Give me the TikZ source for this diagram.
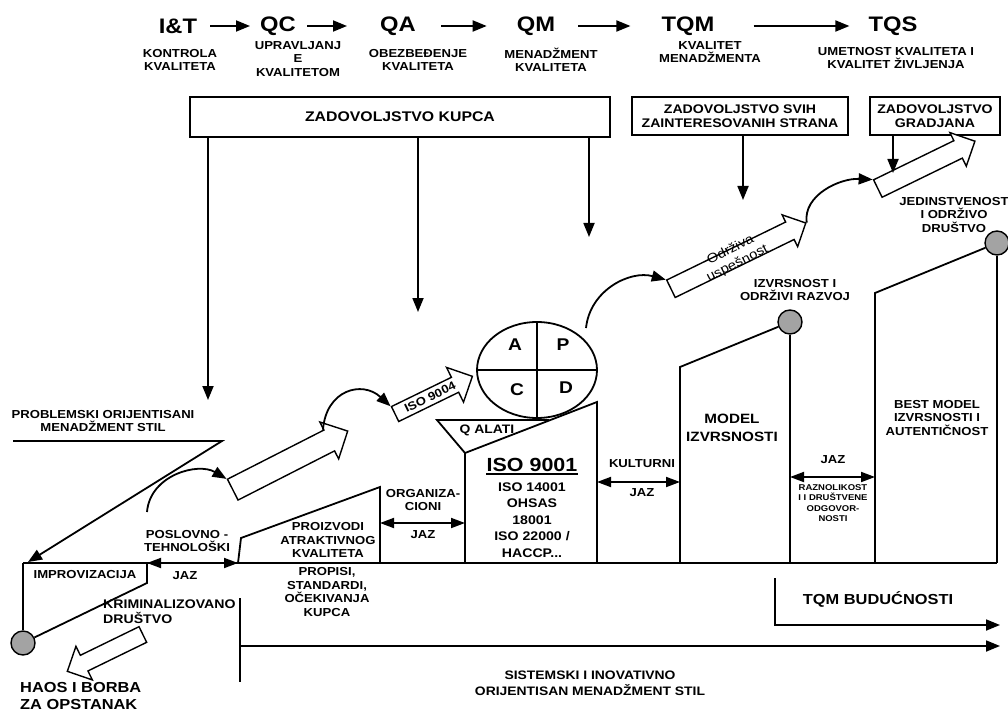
\documentclass[tikz,border=0pt]{standalone}
\usepackage{fontspec}
\setmainfont{Liberation Sans}[FakeStretch=1.13]
\usetikzlibrary{arrows.meta,positioning,shapes.arrows,shapes.geometric,calc}
\definecolor{discgray}{HTML}{A3A3A3}
\tikzset{
  lbl/.style={font=\fontsize{11.6}{13.5}\selectfont\bfseries,align=center,inner sep=0pt},
  sm/.style={lbl,font=\fontsize{8.4}{10.5}\selectfont\bfseries},
  mid/.style={lbl,font=\fontsize{13.5}{18}\selectfont\bfseries},
  big/.style={lbl,font=\fontsize{14.5}{16.5}\selectfont\bfseries},
  hd/.style={font=\fontsize{21}{24}\selectfont\bfseries,inner sep=0pt},
  box/.style={draw,line width=1.8pt,align=center,inner sep=0pt,font=\fontsize{12.5}{14}\selectfont\bfseries},
  ln/.style={line width=1.8pt},
  ar/.style={ln,-{Triangle[length=14pt,width=11pt]}},
  gap/.style={ln,{Triangle[length=14pt,width=10pt]}-{Triangle[length=14pt,width=10pt]}},
  blk/.style={single arrow,draw,line width=1.4pt,fill=white,inner xsep=0pt,single arrow head indent=0pt},
  gdisc/.style={circle,draw,line width=1.4pt,fill=discgray,minimum size=24pt,inner sep=0pt},
}
\begin{document}
\begin{tikzpicture}[x=1pt,y=-1pt]
\useasboundingbox (0,0) rectangle (1008,711);
% stages of quality
\node[hd] (hIT) at (178,26) {I\&T};
\node[hd] (hQC) at (278,26) {QC};
\node[hd] (hQA) at (398,26) {QA};
\node[hd] (hQM) at (536,26) {QM};
\node[hd] (hTQM) at (688,26) {TQM};
\node[hd] (hTQS) at (893,26) {TQS};
\draw[ar,shorten <=13pt,shorten >=10pt] (hIT) -- (hQC);
\draw[ar,shorten <=11pt,shorten >=33pt] (hQC) -- (hQA);
\draw[ar,shorten <=25pt,shorten >=30pt] (hQA) -- (hQM);
\draw[ar,shorten <=23pt,shorten >=31pt] (hQM) -- (hTQM);
\draw[ar,shorten <=39pt,shorten >=19pt] (hTQM) -- (hTQS);
\node[lbl] (sIT) at (180,60) {KONTROLA\\KVALITETA};
\node[lbl] (sQC) at (298,59) {UPRAVLJANJ\\E\\KVALITETOM};
\node[lbl] (sQA) at (418,60) {OBEZBEĐENJE\\KVALITETA};
\node[lbl] (sQM) at (551,60) {MENADŽMENT\\KVALITETA};
\node[lbl] (sTQM) at (710,52) {KVALITET\\MENADŽMENTA};
\node[lbl] (sTQS) at (896,58) {UMETNOST KVALITETA I\\KVALITET ŽIVLJENJA};

% satisfaction boxes
\node[box,minimum width=420pt,minimum height=40pt,font=\fontsize{14}{16}\selectfont\bfseries] (kupca) at (400,117) {ZADOVOLJSTVO KUPCA};
\node[box,minimum width=216pt,minimum height=38pt] (svih) at (740,116) {ZADOVOLJSTVO SVIH\\ZAINTERESOVANIH STRANA};
\node[box,minimum width=130pt,minimum height=38pt] (gradj) at (935,116) {ZADOVOLJSTVO\\GRADJANA};
\coordinate (kA) at (208,400);
\coordinate (kB) at (418,312);
\coordinate (kC) at (589,237);
\coordinate (sA) at (743,200);
\coordinate (gA) at (893,173);
\draw[ar] (kupca.south -| kA) -- (kA);
\draw[ar] (kupca.south -| kB) -- (kB);
\draw[ar] (kupca.south -| kC) -- (kC);
\draw[ar] (svih.south -| sA) -- (sA);

% block arrows
\node[blk,rotate=27,minimum height=129pt,minimum width=40pt,inner ysep=11pt,single arrow head extend=9pt] (b1) at (285,463) {};
\node[blk,rotate=26,minimum height=86pt,minimum width=38pt,inner ysep=3.5pt,single arrow head extend=11pt,font=\fontsize{11.6}{13}\selectfont\bfseries] (b2) at (430,397) {ISO 9004};
\node[blk,rotate=26,minimum height=150pt,minimum width=34pt,inner ysep=9pt,single arrow head extend=8pt] (b3) at (734,258) {};
\node[rotate=27,align=center,inner sep=0pt,font=\fontsize{13}{15}\selectfont] (odr) at (734,257) {Održiva\\uspešnost};
\node[blk,rotate=26,minimum height=108pt,minimum width=36pt,inner ysep=9pt,single arrow head extend=9pt] (b4) at (922,167) {};
\node[blk,rotate=206,minimum height=84pt,minimum width=36pt,inner ysep=8pt,single arrow head extend=10pt] (b5) at (109,651) {};
\draw[ar] (gradj.south -| gA) -- (gA);

% curved arrows
\coordinate (ca) at (147,512);
\coordinate (cc) at (586,328);
\draw[ar] (ca) .. controls (150,475) and (198,462) .. (b1.after tail);
\draw[ar] (b1.before head) .. controls (326,390) and (362,380) .. (b2.after tail);
\draw[ar] (cc) .. controls (590,290) and (630,270) .. (b3.after tail);
\draw[ar] (b3.tip) .. controls (803,195) and (840,178) .. (b4.after tail);

% PDCA
\node[draw,ellipse,ln,minimum width=120pt,minimum height=96pt,inner sep=0pt] (pdca) at (537,370) {};
\draw[ln] (pdca.north) -- (pdca.south);
\draw[ln] (pdca.west) -- (pdca.east);
\node[hd,font=\fontsize{17}{19}\selectfont\bfseries] (pA) at ([shift={(-22,-25)}]pdca.center) {A};
\node[hd,font=\fontsize{17}{19}\selectfont\bfseries] (pP) at ([shift={(26,-25)}]pdca.center) {P};
\node[hd,font=\fontsize{17}{19}\selectfont\bfseries] (pC) at ([shift={(-20,20)}]pdca.center) {C};
\node[hd,font=\fontsize{17}{19}\selectfont\bfseries] (pD) at ([shift={(29,18)}]pdca.center) {D};

% base line and left part
\coordinate (bl) at (23,563);
\coordinate (br) at (997,563);
\draw[line width=2.2pt] (bl) -- (br);
\node[lbl] (probl) at (103,421) {PROBLEMSKI ORIJENTISANI\\MENADŽMENT STIL};
\coordinate (pl1) at (13,441);
\coordinate (pl2) at (222,441);
\coordinate (pl3) at (28,562);
\draw[ar] (pl1) -- (pl2) -- (pl3);
\node[gdisc] (c1) at (23,643) {};
\coordinate (im1) at (147,563);
\coordinate (im2) at (147,583);
\draw[ln] (c1) -- (bl);
\draw[ln] (im1) -- (im2) -- (c1);
\node[lbl] (improv) at (85,575) {IMPROVIZACIJA};
\node[lbl,align=left,anchor=west,font=\fontsize{12.5}{15}\selectfont\bfseries] (krim) at (103,612) {KRIMINALIZOVANO\\DRUŠTVO};
\node[big,align=left,anchor=west] (haos) at (20,696) {HAOS I BORBA\\ZA OPSTANAK};

% products
\coordinate (pr1) at (238,563);
\coordinate (pr2) at (241,538);
\coordinate (pr3) at (380,487);
\coordinate (pr4) at (380,563);
\draw[ln] (pr1) -- (pr2) -- (pr3) -- (pr4);
\draw[gap] (im1) -- (pr1);
\node[lbl] (poslov) at (187,541) {POSLOVNO -\\TEHNOLOŠKI};
\node[lbl] (jaz1) at (185,576) {JAZ};
\node[lbl] (proiz) at (328,540) {PROIZVODI\\ATRAKTIVNOG\\KVALITETA};
\node[lbl] (propis) at (327,592) {PROPISI,\\STANDARDI,\\OČEKIVANJA\\KUPCA};

% ISO 9001
\coordinate (is1) at (465,563);
\coordinate (is2) at (465,453);
\coordinate (is3) at (597,402);
\coordinate (is4) at (597,563);
\coordinate (qa1) at (437,420);
\coordinate (qa2) at (549,420);
\draw[ln] (is1) -- (is2) -- (is3) -- (is4);
\draw[ln] (is2) -- (qa1) -- (qa2);
\node[lbl,font=\fontsize{12.3}{14}\selectfont\bfseries] (qalat) at (487,430) {Q ALATI};
\coordinate (og1) at (380,523);
\coordinate (og2) at (465,523);
\draw[gap] (og1) -- (og2);
\node[lbl] (organ) at (423,500) {ORGANIZA-\\CIONI};
\node[lbl] (jaz2) at (423,535) {JAZ};
\node[inner sep=0pt,font=\fontsize{19}{22}\selectfont\bfseries] (iso) at (532,465) {ISO 9001};
\draw[line width=1.8pt] ([yshift=-2.5pt]iso.base west) -- ([yshift=-2.5pt]iso.base east);
\node[lbl,font=\fontsize{12.5}{16.5}\selectfont\bfseries] (isol) at (532,520) {ISO 14001\\OHSAS\\18001\\ISO 22000 /\\HACCP...};

% model of excellence
\coordinate (ku1) at (597,482);
\coordinate (ku2) at (680,482);
\draw[gap] (ku1) -- (ku2);
\node[lbl] (kult) at (642,464) {KULTURNI};
\node[lbl] (jaz3) at (642,493) {JAZ};
\node[gdisc] (c2) at (790,322) {};
\coordinate (md1) at (680,563);
\coordinate (md2) at (680,367);
\coordinate (md4) at (790,563);
\draw[ln] (md1) -- (md2) -- (c2);
\draw[ln] (c2) -- (md4);
\node[mid] (model) at (732,428) {MODEL\\IZVRSNOSTI};
\node[lbl] (izvrs) at (795,290) {IZVRSNOST I\\ODRŽIVI RAZVOJ};

% best model
\coordinate (rz1) at (790,477);
\coordinate (rz2) at (875,477);
\draw[gap] (rz1) -- (rz2);
\node[lbl] (jaz4) at (833,460) {JAZ};
\node[sm] (razn) at (833,503) {RAZNOLIKOST\\I I DRUŠTVENE\\ODGOVOR-\\NOSTI};
\node[gdisc] (c3) at (997,243) {};
\coordinate (bs1) at (875,563);
\coordinate (bs2) at (875,293);
\coordinate (bs4) at (997,563);
\draw[ln] (bs1) -- (bs2) -- (c3);
\draw[ln] (c3) -- (bs4);
\node[lbl] (best) at (937,418) {BEST MODEL\\IZVRSNOSTI I\\AUTENTIČNOST};
\node[lbl] (jedin) at (954,215) {JEDINSTVENOST\\I ODRŽIVO\\DRUŠTVO};

% future and system style
\node[big] (tqmb) at (878,599) {TQM BUDUĆNOSTI};
\coordinate (fu1) at (775,578);
\coordinate (fu2) at (775,625);
\coordinate (fu3) at (1000,625);
\draw[ar] (fu1) -- (fu2) -- (fu3);
\coordinate (v1) at (240,598);
\coordinate (v2) at (240,682);
\coordinate (la) at (240,646);
\coordinate (lb) at (1000,646);
\draw[ln] (v1) -- (v2);
\draw[ar] (la) -- (lb);
\node[lbl,font=\fontsize{12.3}{16}\selectfont\bfseries] (sist) at (590,683) {SISTEMSKI I INOVATIVNO\\ORIJENTISAN MENADŽMENT STIL};
\end{tikzpicture}
\end{document}
